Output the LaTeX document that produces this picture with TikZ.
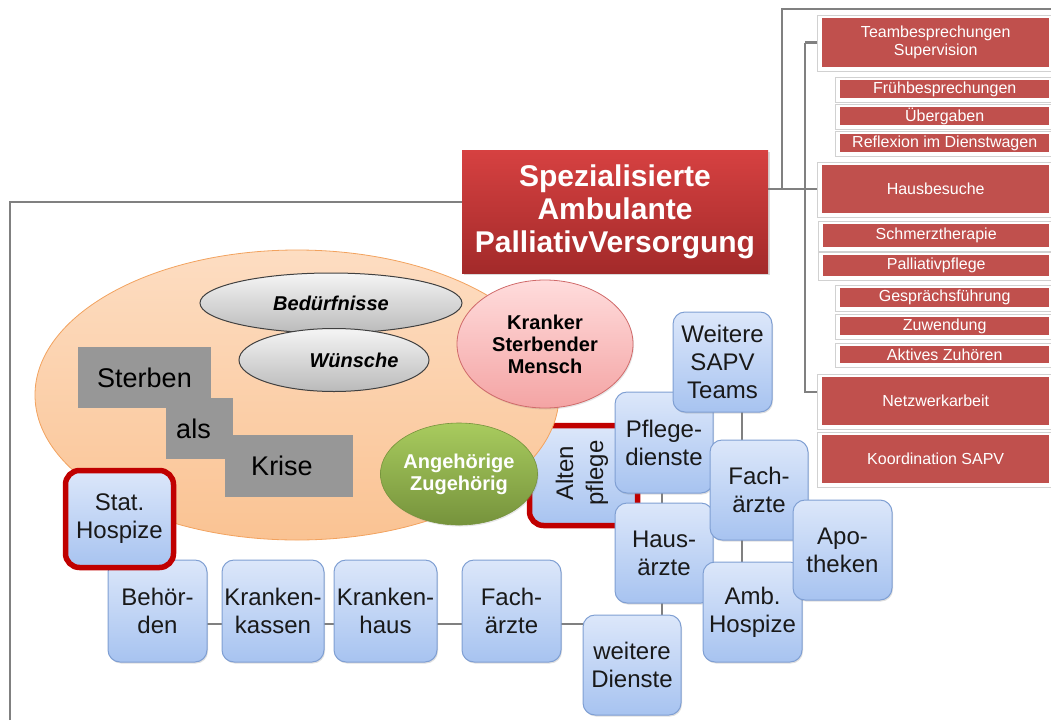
\documentclass[tikz,border=0pt]{standalone}
\usepackage{fontspec}
\setmainfont{Liberation Sans}
\usetikzlibrary{shapes.geometric,shadows}
\definecolor{sapvred}{HTML}{C0504D}
\definecolor{titletop}{HTML}{D64141}
\definecolor{titlebot}{HTML}{A32A2A}
\definecolor{linegray}{HTML}{808080}
\definecolor{bluetop}{HTML}{DCE7FA}
\definecolor{bluebot}{HTML}{A7C3F0}
\definecolor{bluebd}{HTML}{7F9FD3}
\definecolor{hospred}{HTML}{C00000}
\definecolor{orangetop}{HTML}{FDDDC2}
\definecolor{orangebot}{HTML}{FAC393}
\definecolor{orangebd}{HTML}{F2A25E}
\definecolor{pinktop}{HTML}{FFDCDC}
\definecolor{pinkbot}{HTML}{F4A4A4}
\definecolor{pinkbd}{HTML}{D06A6A}
\definecolor{greentop}{HTML}{A8CB5E}
\definecolor{greenbot}{HTML}{76933C}
\definecolor{krisegray}{HTML}{979797}
\pgfdeclarelayer{background}
\pgfsetlayers{background,main}
\begin{document}
\begin{tikzpicture}[x=1pt,y=-1pt,
  connector/.style={draw=linegray,line width=2.6pt},
  card/.style={draw=black!18,fill=white,line width=0.8pt,
    drop shadow={shadow xshift=1pt,shadow yshift=-1pt,opacity=0.15}},
  redbox/.style={fill=sapvred,text=white,anchor=west,inner sep=0pt,align=center,
    font=\fontsize{16}{18}\selectfont},
  bluebox/.style={draw=bluebd,line width=1pt,rounded corners=12pt,
    top color=bluetop,bottom color=bluebot,align=center,inner sep=0pt,
    text=black!90,font=\fontsize{24}{28}\selectfont,
    drop shadow={shadow xshift=1pt,shadow yshift=-1.5pt,opacity=0.25}},
  hospbox/.style={bluebox,draw=hospred,line width=5.5pt,rounded corners=14pt},
  grayell/.style={ellipse,draw=black!75,line width=1pt,top color=black!4,
    bottom color=black!27,inner sep=0pt,font=\fontsize{20}{22}\selectfont\bfseries\itshape},
  krisebox/.style={fill=krisegray,inner sep=0pt,font=\fontsize{27}{30}\selectfont}
]
\useasboundingbox (0,0) rectangle (1051,720);

% ---------- right column: cards ----------
\path[card] (817,15) rectangle (1053,71);
\path[card] (835,77) rectangle (1053,102);
\path[card] (835,104) rectangle (1053,129);
\path[card] (835,131) rectangle (1053,156);
\path[card] (817,162) rectangle (1053,217);
\path[card] (818,221) rectangle (1053,251);
\path[card] (818,252) rectangle (1053,280);
\path[card] (835,285) rectangle (1053,311);
\path[card] (835,314) rectangle (1053,339);
\path[card] (835,343) rectangle (1053,367);
\path[card] (817,374) rectangle (1053,429);
\path[card] (817,432) rectangle (1053,487);

% ---------- right column: red boxes ----------
\node[redbox,minimum width=227,minimum height=49] (team) at (822,42.5) {Teambesprechungen\\Supervision};
\node[redbox,minimum width=209,minimum height=18] (frueh) at (840,89) {Frühbesprechungen};
\node[redbox,minimum width=209,minimum height=18] (ueber) at (840,116) {Übergaben};
\node[redbox,minimum width=209,minimum height=18] (refl) at (840,143) {Reflexion im Dienstwagen};
\node[redbox,minimum width=227,minimum height=48] (hausb) at (822,189) {Hausbesuche};
\node[redbox,minimum width=226,minimum height=23] (schmerz) at (823,235.5) {Schmerztherapie};
\node[redbox,minimum width=226,minimum height=21] (pallpf) at (823,265.5) {Palliativpflege};
\node[redbox,minimum width=209,minimum height=19] (gespr) at (840,297.5) {Gesprächsführung};
\node[redbox,minimum width=209,minimum height=18] (zuw) at (840,326) {Zuwendung};
\node[redbox,minimum width=209,minimum height=17] (aktiv) at (840,354.5) {Aktives Zuhören};
\node[redbox,minimum width=227,minimum height=48] (netz) at (822,401) {Netzwerkarbeit};
\node[redbox,minimum width=227,minimum height=48] (koord) at (822,459) {Koordination SAPV};

% ---------- title ----------
\node[top color=titletop,bottom color=titlebot,minimum width=306,minimum height=123,
  inner sep=0pt,align=center,text=white,font=\fontsize{30}{33}\selectfont\bfseries,
  drop shadow={shadow xshift=1.5pt,shadow yshift=-1.5pt,opacity=0.3}]
  (title) at (615,211.5) {Spezialisierte\\Ambulante\\PalliativVersorgung};

% ---------- Altenpflege (behind the orange ellipse) ----------
\node[hospbox,minimum width=108,minimum height=100] (alten) at (583.5,475.5) {};
\node[rotate=90,align=center,inner sep=0pt,text=black!90,
  font=\fontsize{24}{30}\selectfont] (altentext) at (582,473) {Alten\\pflege};

% ---------- orange world ----------
\node[ellipse,draw=orangebd,line width=0.8pt,top color=orangetop,bottom color=orangebot,
  minimum width=524,minimum height=290,inner sep=0pt] (welt) at (297,395) {};

\node[grayell,minimum width=262,minimum height=60] (beduerf) at (331,303) {Bedürfnisse};
\node[grayell,minimum width=190,minimum height=63] (wuensche) at (334,360) {\hspace*{40pt}Wünsche};

\node[krisebox,minimum width=133,minimum height=61] (sterben) at (144.5,377.5) {Sterben};
\node[krisebox,minimum width=67,minimum height=61] (als) at (199.5,428.5) {\hspace*{-12pt}als};
\node[krisebox,minimum width=128,minimum height=62] (krise) at (289,466) {\hspace*{-14pt}Krise};

\node[ellipse,draw=pinkbd,line width=0.8pt,top color=pinktop,bottom color=pinkbot,
  minimum width=176,minimum height=128,inner sep=0pt,align=center,
  font=\fontsize{20}{22}\selectfont\bfseries,
  drop shadow={shadow xshift=1pt,shadow yshift=-1.5pt,opacity=0.2}]
  (mensch) at (545,344) {Kranker\\Sterbender\\Mensch};

\node[ellipse,draw=greenbot,line width=0.6pt,top color=greentop,bottom color=greenbot,
  minimum width=132,minimum height=102,inner sep=0pt,align=center,text=white,
  font=\fontsize{20}{22}\selectfont\bfseries,
  drop shadow={shadow xshift=1pt,shadow yshift=-1.5pt,opacity=0.2}]
  (angeh) at (459,474) {Angehörige\\Zugehörig};

% ---------- bottom row ----------
\node[bluebox,minimum width=99,minimum height=102] (behoerden) at (157.5,611) {Behör-\\den};
\node[hospbox,minimum width=108,minimum height=97] (stat) at (119.5,519) {Stat.\\Hospize};
\node[bluebox,minimum width=102,minimum height=102] (kassen) at (273,611) {Kranken-\\kassen};
\node[bluebox,minimum width=103,minimum height=102] (khaus) at (385.5,611) {Kranken-\\haus};
\node[bluebox,minimum width=99,minimum height=102] (fachB) at (511.5,611) {Fach-\\ärzte};

% ---------- network ----------
\node[bluebox,minimum width=98,minimum height=101] (pflege) at (664,442.5) {Pflege-\\dienste};
\node[bluebox,minimum width=99,minimum height=100] (weitere) at (722.5,362) {Weitere\\SAPV\\Teams};
\node[bluebox,minimum width=98,minimum height=100] (hausaerzte) at (664,553) {Haus-\\ärzte};
\node[bluebox,minimum width=98,minimum height=100] (fachR) at (759,490) {Fach-\\ärzte};
\node[bluebox,minimum width=99,minimum height=100] (amb) at (752.5,612) {Amb.\\Hospize};
\node[bluebox,minimum width=99,minimum height=100] (apo) at (842.5,550) {Apo-\\theken};
\node[bluebox,minimum width=98,minimum height=100] (wdienste) at (632,665) {weitere\\Dienste};

% ---------- connectors ----------
\coordinate (framefoot) at (10,720);
\coordinate (jA) at (782,189);
\coordinate (topright) at (1051,9);
\coordinate (jB) at (805,0);
\coordinate (vx) at (742,0);
\begin{pgfonlayer}{background}
  \draw[connector] (framefoot) |- ([yshift=9.5pt]title.west);
  \draw[connector] (title.center |- hausb.west) -- (hausb.west);
  \draw[connector] (jA) |- (topright);
  \draw[connector] (team.west -| jB) -- (team.west);
  \draw[connector] (team.west -| jB) |- ([yshift=9pt]netz.west);
  \draw[connector] ([yshift=-13pt]behoerden.center) -- ([yshift=-13pt]kassen.center);
  \draw[connector] ([yshift=-13pt]kassen.center) -- ([yshift=-13pt]khaus.center);
  \draw[connector] ([yshift=-13pt]khaus.center) -- ([yshift=-13pt]fachB.center);
  \draw[connector] ([yshift=-13pt]fachB.center) -- ([yshift=-13pt]fachB.center -| wdienste.center);
  \draw[connector] ([xshift=-2pt]pflege.center) -- ([xshift=-2pt]hausaerzte.center);
  \draw[connector] ([xshift=-2pt]hausaerzte.center) -- ([xshift=-2pt]hausaerzte.center |- wdienste.center);
  \draw[connector] (weitere.center -| vx) -- (fachR.center -| vx);
  \draw[connector] (fachR.center -| vx) -- (amb.center -| vx);
\end{pgfonlayer}
\end{tikzpicture}
\end{document}
